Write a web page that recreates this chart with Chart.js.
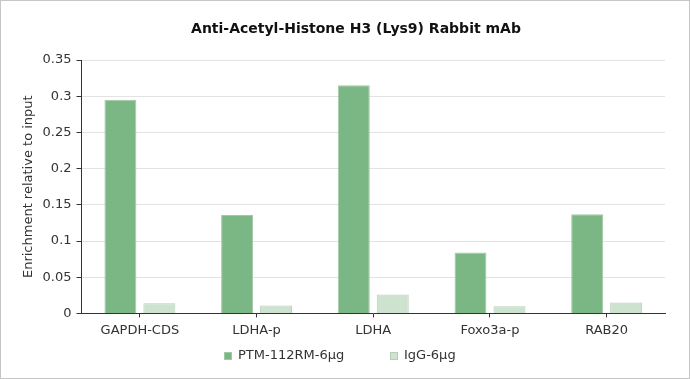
<!DOCTYPE html>
<html><head><meta charset="utf-8">
<script src="https://cdn.jsdelivr.net/npm/chart.js@4"></script>
<style>
html,body{margin:0;padding:0;background:#fff;}
#wrap{position:absolute;left:0;top:0;width:688px;height:377px;border:1px solid #c6c6c6;}
</style></head>
<body><div id="wrap"><canvas id="c" width="688" height="377"></canvas></div>
<script>
const categories = ["GAPDH-CDS","LDHA-p","LDHA","Foxo3a-p","RAB20"];
const ptmValues = [0.295, 0.136, 0.315, 0.084, 0.137];
const iggValues = [0.014, 0.011, 0.026, 0.010, 0.015];
const seriesNames = ["PTM-112RM-6μg","IgG-6μg"];
const yTickLabels = ["0","0.05","0.1","0.15","0.2","0.25","0.3","0.35"];
const chartTitle = "Anti-Acetyl-Histone H3 (Lys9) Rabbit mAb";
const yTitle = "Enrichment relative to input";

const font = "'DejaVu Sans', Verdana, sans-serif";
const textColor = '#333';
const colors = {ptm: '#7bb784', ptmBorder: '#a2c9a7', igg: '#cde2cf', iggBorder: '#b6cfb9'};

const titleLegendPlugin = {
  id: 'titleLegend',
  afterDraw(chart) {
    const ctx = chart.ctx;
    ctx.save();
    ctx.fillStyle = '#111';
    ctx.font = "bold 14px " + font;
    ctx.textAlign = 'center';
    ctx.textBaseline = 'middle';
    ctx.fillText(chartTitle, 355, 28);
    // legend
    ctx.font = "13px " + font;
    ctx.textAlign = 'left';
    const items = [
      {x: 223, text: seriesNames[0], fill: colors.ptm, stroke: colors.ptmBorder},
      {x: 389, text: seriesNames[1], fill: colors.igg, stroke: colors.iggBorder}
    ];
    items.forEach(it => {
      ctx.fillStyle = it.fill;
      ctx.fillRect(it.x, 351, 8, 8);
      ctx.strokeStyle = it.stroke;
      ctx.lineWidth = 1;
      ctx.strokeRect(it.x + 0.5, 351.5, 7, 7);
      ctx.fillStyle = textColor;
      ctx.fillText(it.text, it.x + 14, 355);
    });
    ctx.restore();
  }
};

new Chart(document.getElementById('c'), {
  type: 'bar',
  data: {
    labels: categories,
    datasets: [
      {label: seriesNames[0], data: ptmValues, backgroundColor: colors.ptm, borderColor: colors.ptmBorder, borderWidth: 1,
       barPercentage: 0.82, categoryPercentage: 0.668},
      {label: seriesNames[1], data: iggValues, backgroundColor: colors.igg, borderColor: colors.iggBorder, borderWidth: 1,
       barPercentage: 0.82, categoryPercentage: 0.668}
    ]
  },
  options: {
    responsive: false,
    animation: false,
    layout: {padding: {left: 16, right: 24, top: 59, bottom: 35}},
    plugins: {
      title: {display: false},
      legend: {display: false},
      tooltip: {enabled: false}
    },
    scales: {
      x: {
        grid: {drawOnChartArea: false, offset: false, tickLength: 4, tickColor: '#333', color: '#333'},
        border: {color: '#333', width: 1},
        ticks: {color: textColor, font: {family: font, size: 13}, padding: 5, maxRotation: 0}
      },
      y: {
        min: 0, max: 0.35,
        grid: {color: '#e2e2e2', tickLength: 5, tickColor: '#333', lineWidth: 1},
        border: {color: '#333', width: 1},
        ticks: {stepSize: 0.05, color: textColor, font: {family: font, size: 13}, padding: 5,
          callback: (v, i) => yTickLabels[i]},
        title: {display: true, text: yTitle, color: textColor, font: {family: font, size: 13}, padding: {top: 4, bottom: 1}}
      }
    }
  },
  plugins: [titleLegendPlugin]
});
</script></body></html>
